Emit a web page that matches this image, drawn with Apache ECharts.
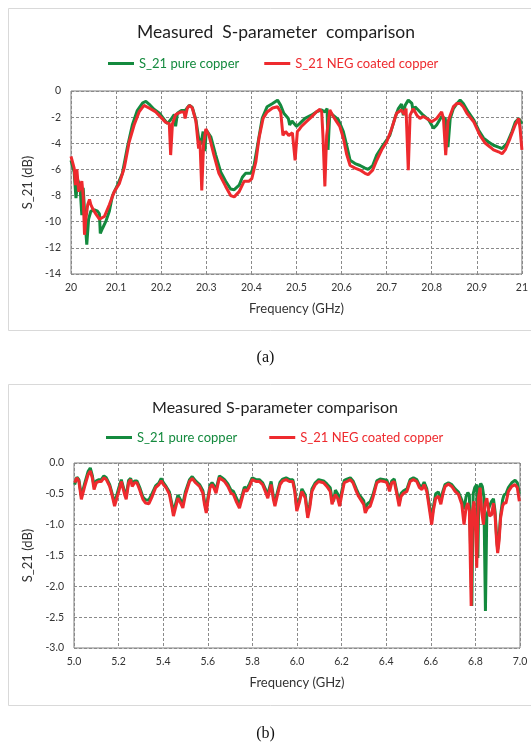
<!DOCTYPE html>
<html><head><meta charset="utf-8">
<script src="https://cdn.jsdelivr.net/npm/echarts@6/dist/echarts.min.js"></script>
<style>html,body{margin:0;padding:0;background:#fff}#c{width:531px;height:742px}</style>
</head><body><div id="c"></div>
<script>
// ---------- Chart (a): 20 - 21 GHz ----------
const titleA = 'Measured  S-parameter  comparison';
const xTicksA = { min: 20, max: 21, interval: 0.1 };
const yTicksA = { min: -14, max: 0, interval: 2 };
const freqA_pure = [20.000,20.007,20.011,20.015,20.020,20.024,20.027,20.032,20.035,20.039,20.044,20.052,20.059,20.063,20.065,20.070,20.077,20.085,20.092,20.103,20.114,20.125,20.136,20.147,20.159,20.166,20.173,20.184,20.196,20.207,20.214,20.221,20.229,20.232,20.236,20.244,20.253,20.262,20.269,20.277,20.283,20.288,20.293,20.297,20.300,20.310,20.321,20.332,20.343,20.354,20.362,20.373,20.380,20.387,20.399,20.406,20.415,20.424,20.435,20.447,20.458,20.465,20.472,20.482,20.485,20.490,20.500,20.507,20.519,20.533,20.544,20.556,20.563,20.568,20.570,20.574,20.581,20.593,20.604,20.611,20.619,20.630,20.641,20.652,20.659,20.669,20.678,20.689,20.700,20.707,20.719,20.726,20.733,20.737,20.741,20.748,20.756,20.759,20.763,20.770,20.781,20.793,20.804,20.811,20.822,20.830,20.836,20.841,20.848,20.856,20.863,20.870,20.881,20.893,20.904,20.915,20.926,20.937,20.948,20.956,20.967,20.978,20.985,20.993,21.000];
const s21A_pure = [-5.3,-6.2,-8.2,-6.8,-7.3,-9.5,-7.4,-10.3,-11.75,-9.8,-9.2,-9.1,-9.2,-9.4,-10.9,-10.5,-10.0,-9.2,-8.0,-7.2,-6.3,-4.3,-2.6,-1.5,-0.9,-0.8,-1.0,-1.4,-1.7,-2.2,-2.5,-2.2,-1.8,-2.7,-1.7,-1.5,-1.5,-1.1,-1.25,-2.2,-3.6,-4.1,-3.1,-4.6,-3.0,-3.5,-4.9,-6.2,-6.9,-7.5,-7.55,-7.2,-6.6,-6.3,-6.3,-5.7,-3.9,-2.1,-1.2,-0.95,-0.7,-1.1,-1.7,-2.1,-2.6,-2.3,-2.7,-2.5,-2.1,-1.85,-1.6,-1.45,-1.6,-1.35,-4.5,-1.6,-1.85,-2.2,-3.1,-4.1,-5.3,-5.55,-5.7,-5.9,-6.0,-5.7,-4.9,-4.3,-3.75,-3.4,-2.0,-1.35,-1.0,-1.85,-1.1,-0.7,-0.95,-1.6,-1.2,-1.45,-1.85,-2.2,-2.85,-2.6,-1.95,-2.1,-4.3,-2.1,-1.35,-0.95,-0.7,-0.95,-1.6,-2.2,-3.0,-3.6,-3.9,-4.15,-4.3,-4.4,-4.0,-3.1,-2.4,-2.1,-2.5];
const freqA_neg = [20.000,20.007,20.010,20.013,20.017,20.021,20.024,20.027,20.030,20.033,20.037,20.041,20.044,20.048,20.055,20.063,20.066,20.074,20.085,20.096,20.107,20.118,20.129,20.140,20.151,20.162,20.173,20.188,20.199,20.210,20.218,20.221,20.225,20.232,20.244,20.251,20.253,20.258,20.263,20.269,20.277,20.283,20.286,20.290,20.294,20.299,20.306,20.317,20.328,20.343,20.354,20.362,20.373,20.384,20.395,20.401,20.410,20.417,20.426,20.435,20.447,20.458,20.465,20.470,20.476,20.483,20.491,20.497,20.502,20.507,20.511,20.522,20.533,20.544,20.552,20.556,20.559,20.563,20.567,20.574,20.580,20.589,20.596,20.604,20.611,20.619,20.630,20.641,20.652,20.659,20.669,20.678,20.689,20.700,20.711,20.722,20.733,20.739,20.743,20.748,20.752,20.759,20.767,20.774,20.781,20.789,20.800,20.811,20.822,20.826,20.831,20.836,20.841,20.848,20.856,20.863,20.870,20.878,20.893,20.907,20.919,20.930,20.937,20.948,20.956,20.963,20.974,20.985,20.993,20.996,21.000];
const s21A_neg = [-5.0,-5.9,-7.2,-6.0,-7.7,-7.3,-6.9,-8.0,-11.0,-9.8,-8.7,-8.3,-8.7,-9.0,-9.4,-9.8,-9.9,-9.6,-8.7,-7.7,-7.1,-5.9,-3.9,-2.6,-1.6,-1.1,-1.3,-1.6,-2.0,-2.4,-2.5,-4.9,-2.5,-1.8,-1.6,-1.6,-2.1,-1.3,-1.1,-1.3,-2.3,-4.4,-3.8,-7.6,-4.1,-2.9,-3.4,-4.9,-6.3,-7.3,-8.0,-8.1,-7.7,-6.9,-6.9,-6.7,-5.4,-3.6,-2.1,-1.6,-1.3,-1.2,-1.6,-3.4,-3.1,-3.4,-3.2,-5.3,-3.1,-2.9,-2.7,-2.35,-2.0,-1.6,-1.4,-1.6,-3.6,-7.3,-3.4,-1.45,-1.85,-2.35,-2.7,-3.6,-4.8,-5.7,-5.9,-6.05,-6.3,-6.4,-6.05,-5.3,-4.5,-3.9,-2.9,-1.7,-1.45,-1.8,-1.35,-6.05,-1.85,-1.35,-1.85,-2.1,-1.95,-2.1,-2.35,-2.1,-1.6,-2.1,-4.9,-2.35,-1.85,-1.2,-0.95,-0.95,-1.2,-1.7,-2.35,-3.4,-4.0,-4.3,-4.5,-4.65,-4.8,-4.5,-3.6,-2.6,-2.1,-2.9,-4.5];

// ---------- Chart (b): 5 - 7 GHz ----------
const titleB = 'Measured S-parameter comparison';
const xTicksB = { min: 5.0, max: 7.0, interval: 0.2 };
const yTicksB = { min: -3.0, max: 0.0, interval: 0.5 };
const freqB_neg = [5.003,5.013,5.022,5.033,5.040,5.048,5.063,5.073,5.082,5.090,5.100,5.112,5.122,5.134,5.145,5.160,5.172,5.182,5.190,5.201,5.212,5.219,5.227,5.234,5.245,5.254,5.261,5.272,5.282,5.294,5.309,5.321,5.336,5.351,5.366,5.381,5.391,5.401,5.413,5.428,5.440,5.446,5.455,5.466,5.473,5.481,5.488,5.500,5.518,5.530,5.545,5.563,5.578,5.585,5.593,5.600,5.610,5.619,5.627,5.637,5.645,5.652,5.664,5.675,5.690,5.704,5.715,5.727,5.742,5.754,5.764,5.775,5.787,5.799,5.816,5.831,5.846,5.858,5.869,5.876,5.884,5.894,5.901,5.913,5.924,5.936,5.951,5.966,5.981,5.990,5.999,6.003,6.012,6.022,6.030,6.037,6.048,6.057,6.067,6.082,6.097,6.104,6.119,6.134,6.149,6.157,6.164,6.172,6.182,6.191,6.201,6.212,6.224,6.239,6.251,6.266,6.276,6.284,6.299,6.306,6.316,6.328,6.340,6.358,6.373,6.391,6.403,6.415,6.425,6.436,6.448,6.458,6.467,6.478,6.493,6.507,6.522,6.537,6.549,6.560,6.570,6.582,6.593,6.604,6.612,6.622,6.634,6.645,6.654,6.664,6.679,6.694,6.709,6.724,6.739,6.749,6.758,6.766,6.773,6.781,6.787,6.794,6.801,6.806,6.813,6.821,6.828,6.836,6.843,6.851,6.863,6.873,6.881,6.888,6.896,6.900,6.906,6.913,6.922,6.928,6.937,6.948,6.963,6.978,6.988,6.997];
const s21B_neg = [-0.32,-0.24,-0.30,-0.59,-0.57,-0.38,-0.19,-0.13,-0.24,-0.43,-0.32,-0.30,-0.30,-0.24,-0.27,-0.38,-0.54,-0.70,-0.67,-0.46,-0.30,-0.30,-0.51,-0.59,-0.32,-0.27,-0.38,-0.32,-0.32,-0.43,-0.59,-0.65,-0.66,-0.54,-0.40,-0.35,-0.29,-0.35,-0.40,-0.51,-0.73,-0.86,-0.73,-0.57,-0.57,-0.67,-0.73,-0.51,-0.30,-0.25,-0.32,-0.38,-0.49,-0.67,-0.81,-0.62,-0.40,-0.35,-0.40,-0.49,-0.35,-0.24,-0.27,-0.30,-0.38,-0.49,-0.51,-0.62,-0.73,-0.57,-0.43,-0.46,-0.38,-0.27,-0.30,-0.30,-0.35,-0.46,-0.57,-0.46,-0.35,-0.59,-0.70,-0.51,-0.35,-0.29,-0.27,-0.30,-0.30,-0.46,-0.78,-0.81,-0.62,-0.46,-0.43,-0.57,-0.89,-0.73,-0.46,-0.35,-0.30,-0.27,-0.32,-0.38,-0.46,-0.67,-0.70,-0.51,-0.57,-0.70,-0.51,-0.32,-0.30,-0.27,-0.32,-0.46,-0.54,-0.57,-0.67,-0.81,-0.73,-0.70,-0.57,-0.32,-0.29,-0.30,-0.32,-0.46,-0.32,-0.30,-0.51,-0.70,-0.54,-0.49,-0.46,-0.30,-0.27,-0.30,-0.40,-0.43,-0.35,-0.46,-0.73,-1.00,-0.76,-0.57,-0.54,-0.67,-0.51,-0.38,-0.34,-0.38,-0.46,-0.51,-0.67,-1.00,-0.73,-0.65,-0.78,-2.32,-0.78,-0.62,-1.11,-1.70,-0.57,-0.40,-0.78,-1.00,-0.67,-0.57,-0.86,-0.84,-0.65,-0.84,-1.32,-1.46,-1.27,-0.89,-0.70,-0.65,-0.65,-0.46,-0.38,-0.35,-0.40,-0.62];
const freqB_pure = [5.003,5.013,5.022,5.033,5.040,5.048,5.063,5.073,5.082,5.090,5.100,5.112,5.122,5.134,5.145,5.160,5.172,5.182,5.190,5.201,5.212,5.219,5.227,5.234,5.245,5.254,5.261,5.272,5.282,5.294,5.309,5.321,5.336,5.351,5.366,5.381,5.391,5.401,5.413,5.428,5.440,5.446,5.455,5.466,5.473,5.481,5.488,5.500,5.518,5.530,5.545,5.563,5.578,5.585,5.593,5.600,5.610,5.619,5.627,5.637,5.645,5.652,5.664,5.675,5.690,5.704,5.715,5.727,5.742,5.754,5.764,5.775,5.787,5.799,5.816,5.831,5.846,5.858,5.869,5.876,5.884,5.894,5.901,5.913,5.924,5.936,5.951,5.966,5.981,5.990,5.999,6.003,6.012,6.022,6.030,6.037,6.048,6.057,6.067,6.082,6.097,6.104,6.119,6.134,6.149,6.157,6.164,6.172,6.182,6.191,6.201,6.212,6.224,6.239,6.251,6.266,6.276,6.284,6.299,6.306,6.316,6.328,6.340,6.358,6.373,6.391,6.403,6.415,6.425,6.436,6.448,6.458,6.467,6.478,6.493,6.507,6.522,6.537,6.549,6.560,6.570,6.582,6.593,6.604,6.612,6.622,6.634,6.645,6.654,6.664,6.679,6.694,6.709,6.724,6.739,6.749,6.758,6.766,6.773,6.784,6.790,6.797,6.806,6.811,6.816,6.824,6.831,6.838,6.845,6.851,6.863,6.873,6.881,6.888,6.896,6.900,6.906,6.913,6.922,6.928,6.937,6.948,6.963,6.978,6.988,6.997];
const s21B_pure = [-0.35,-0.23,-0.27,-0.54,-0.52,-0.33,-0.14,-0.08,-0.20,-0.38,-0.29,-0.27,-0.27,-0.21,-0.24,-0.35,-0.51,-0.65,-0.62,-0.40,-0.27,-0.26,-0.47,-0.54,-0.28,-0.25,-0.34,-0.29,-0.29,-0.39,-0.55,-0.60,-0.60,-0.49,-0.37,-0.32,-0.25,-0.32,-0.38,-0.47,-0.68,-0.80,-0.67,-0.52,-0.51,-0.62,-0.67,-0.46,-0.27,-0.22,-0.29,-0.35,-0.45,-0.62,-0.76,-0.57,-0.36,-0.32,-0.36,-0.44,-0.31,-0.21,-0.24,-0.27,-0.34,-0.44,-0.46,-0.56,-0.67,-0.52,-0.39,-0.42,-0.34,-0.24,-0.27,-0.27,-0.32,-0.42,-0.52,-0.41,-0.30,-0.54,-0.65,-0.46,-0.31,-0.26,-0.24,-0.27,-0.27,-0.42,-0.73,-0.76,-0.58,-0.42,-0.40,-0.52,-0.84,-0.68,-0.42,-0.32,-0.27,-0.24,-0.29,-0.34,-0.40,-0.58,-0.62,-0.44,-0.50,-0.64,-0.45,-0.28,-0.26,-0.24,-0.29,-0.42,-0.50,-0.52,-0.61,-0.75,-0.66,-0.63,-0.52,-0.29,-0.26,-0.27,-0.28,-0.41,-0.29,-0.26,-0.47,-0.64,-0.49,-0.45,-0.42,-0.27,-0.24,-0.27,-0.36,-0.39,-0.31,-0.42,-0.66,-0.93,-0.70,-0.50,-0.47,-0.60,-0.46,-0.35,-0.32,-0.35,-0.42,-0.47,-0.60,-0.75,-0.55,-0.48,-0.52,-2.32,-0.50,-0.40,-0.35,-1.54,-0.42,-0.33,-0.38,-0.55,-2.40,-0.85,-0.70,-0.62,-0.58,-0.78,-1.25,-1.40,-1.20,-0.85,-0.60,-0.52,-0.50,-0.40,-0.32,-0.28,-0.32,-0.50];

const seriesNames = ['S_21 pure copper', 'S_21 NEG coated copper'];
const seriesColors = ['#148a3e', '#ee2a2e'];
const xName = 'Frequency (GHz)';
const yName = 'S_21 (dB)';

const zip = (xs, ys) => xs.map((x, i) => [x, ys[i]]);
const FONT = 'Lato';
const chart = echarts.init(document.getElementById('c'), null, { renderer: 'canvas' });

function xAxisCfg(grid, t, fmt, gap) {
  return {
    type: 'value', gridIndex: grid, min: t.min, max: t.max, interval: t.interval,
    name: xName, nameLocation: 'middle', nameGap: gap,
    nameTextStyle: { fontFamily: FONT, fontSize: 13, color: '#333' },
    axisLine: { show: false }, axisTick: { show: false },
    axisLabel: { fontFamily: FONT, fontSize: 10.5, color: '#333', margin: 8, formatter: fmt },
    splitLine: { show: true, lineStyle: { color: '#8a8a8a', type: [3, 2], width: 1 } }
  };
}
function yAxisCfg(grid, t, fmt, gap) {
  return {
    type: 'value', gridIndex: grid, min: t.min, max: t.max, interval: t.interval,
    name: yName, nameLocation: 'middle', nameGap: gap,
    nameTextStyle: { fontFamily: FONT, fontSize: 13, color: '#333' },
    axisLine: { show: false }, axisTick: { show: false },
    axisLabel: { fontFamily: FONT, fontSize: 10.5, color: '#333', margin: 10, formatter: fmt },
    splitLine: { show: true, lineStyle: { color: '#8a8a8a', type: [3, 2], width: 1 } }
  };
}
function legendCfg(left, top, gap) {
  return {
    left: left, top: top, padding: 0, itemGap: gap, itemWidth: 26, itemHeight: 3, icon: 'rect',
    textStyle: { fontFamily: FONT, fontSize: 13 },
    data: seriesNames.map((n, i) => ({ name: n, textStyle: { color: seriesColors[i] } })),
    selectedMode: false
  };
}
function lineSeries(name, color, data, idx) {
  return {
    name: name, type: 'line', xAxisIndex: idx, yAxisIndex: idx, data: data,
    showSymbol: false, symbol: 'none', lineStyle: { color: color, width: 3 }, itemStyle: { color: color },
    z: name === seriesNames[1] ? 3 : 2, animation: false
  };
}

chart.setOption({
  animation: false,
  backgroundColor: '#fff',
  title: [
    { text: titleA, left: 271, top: 18, textAlign: 'center',
      textStyle: { fontFamily: FONT, fontSize: 17.5, fontWeight: 'normal', color: '#1e1e1e' } },
    { text: titleB, left: 270, top: 395, textAlign: 'center',
      textStyle: { fontFamily: FONT, fontSize: 16, fontWeight: 'normal', color: '#1e1e1e' } }
  ],
  legend: [legendCfg(108, 57, 25), legendCfg(106, 431, 32)],
  grid: [
    { left: 71, top: 91, width: 451, height: 183, show: true, borderColor: '#7f7f7f', borderWidth: 1, containLabel: false },
    { left: 74, top: 463, width: 446, height: 185, show: true, borderColor: '#7f7f7f', borderWidth: 1, containLabel: false }
  ],
  xAxis: [
    xAxisCfg(0, xTicksA, v => String(parseFloat(v.toFixed(1))), 28),
    xAxisCfg(1, xTicksB, v => v.toFixed(1), 28)
  ],
  yAxis: [
    yAxisCfg(0, yTicksA, v => String(Math.round(v)), 26),
    yAxisCfg(1, yTicksB, v => v.toFixed(1), 38)
  ],
  series: [
    lineSeries(seriesNames[0], seriesColors[0], zip(freqA_pure, s21A_pure), 0),
    lineSeries(seriesNames[1], seriesColors[1], zip(freqA_neg, s21A_neg), 0),
    lineSeries(seriesNames[0], seriesColors[0], zip(freqB_pure, s21B_pure), 1),
    lineSeries(seriesNames[1], seriesColors[1], zip(freqB_neg, s21B_neg), 1)
  ],
  graphic: [
    { type: 'rect', shape: { x: 8.5, y: 8.5, width: 560, height: 322 }, style: { fill: 'none', stroke: '#d9d9d9', lineWidth: 1 }, silent: true, z: -1 },
    { type: 'rect', shape: { x: 8.5, y: 384.5, width: 560, height: 321 }, style: { fill: 'none', stroke: '#d9d9d9', lineWidth: 1 }, silent: true, z: -1 },
    { type: 'text', left: 'center', top: 350, style: { text: '(a)', font: '16px "Liberation Serif"', fill: '#111' } },
    { type: 'text', left: 'center', top: 726, style: { text: '(b)', font: '16px "Liberation Serif"', fill: '#111' } }
  ]
});
</script>
</body></html>
